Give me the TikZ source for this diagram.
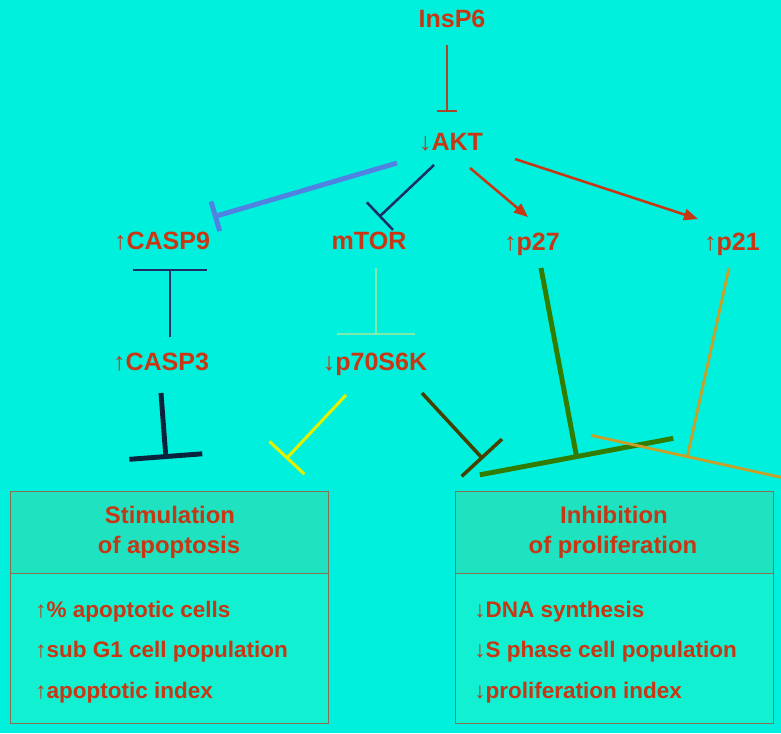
\documentclass[tikz,border=0pt]{standalone}
\usepackage{fontspec}
\setmainfont{Liberation Sans}
\usetikzlibrary{arrows.meta}

\definecolor{bgcyan}{RGB}{0,240,222}
\definecolor{txtred}{RGB}{200,55,20}
\definecolor{headfill}{RGB}{30,226,192}
\definecolor{bodyfill}{RGB}{18,240,210}
\definecolor{boxline}{RGB}{140,110,80}
\definecolor{insred}{RGB}{170,70,40}
\definecolor{caspblue}{RGB}{80,130,225}
\definecolor{navyline}{RGB}{30,45,105}
\definecolor{darknavy}{RGB}{10,35,60}
\definecolor{palegreen}{RGB}{130,235,170}
\definecolor{yellowline}{RGB}{225,240,0}
\definecolor{oliveline}{RGB}{70,65,0}
\definecolor{leafgreen}{RGB}{50,125,0}
\definecolor{ochreline}{RGB}{200,160,40}

\newcommand{\upar}{{\mdseries ↑}}
\newcommand{\downar}{{\mdseries ↓}}

\tikzset{
	lbl/.style={text=txtred, font=\fontsize{17.8}{20}\selectfont\bfseries, inner sep=0pt, anchor=base},
	headtxt/.style={text=txtred, font=\fontsize{17}{20}\selectfont\bfseries, inner sep=0pt, anchor=base},
	boxtxt/.style={text=txtred, font=\fontsize{16}{19}\selectfont\bfseries, inner sep=0pt, anchor=base west},
	blocks/.style={-{Bar[width=#1]}},
	activ/.style={txtred, line width=1.8pt, -{Triangle[length=10pt,width=8pt]}}
}

\begin{document}
\begin{tikzpicture}[x=0.025cm, y=-0.025cm]
	
	% Nền
	\clip (0,0) rectangle (781,733);
	\fill[bgcyan] (0,0) rectangle (781,733);
	
	% Hai khung kết quả
	\fill[headfill] (10,491) rectangle (328,573);
	\fill[bodyfill] (10,573) rectangle (328,723);
	\draw[boxline, line width=0.7pt] (10,491) rectangle (328,723);
	\draw[boxline, line width=0.7pt] (10,573) -- (328,573);
	\fill[headfill] (455,491) rectangle (773,573);
	\fill[bodyfill] (455,573) rectangle (773,723);
	\draw[boxline, line width=0.7pt] (455,491) rectangle (773,723);
	\draw[boxline, line width=0.7pt] (455,573) -- (773,573);
	
	% Các phân tử
	\node[lbl] (insp6) at (452,27) {InsP6};
	\node[lbl] (akt) at (451,150) {\downar AKT};
	\node[lbl] (casp9) at (162,249) {\upar CASP9};
	\node[lbl] (mtor) at (369,249) {mTOR};
	\node[lbl] (p27) at (532,250) {\upar p27};
	\node[lbl] (p21) at (732,250) {\upar p21};
	\node[lbl] (casp3) at (161,370) {\upar CASP3};
	\node[lbl] (p70) at (375,370) {\downar p70S6K};
	
	% Nội dung khung
	\node[headtxt] (apop) at (170,523) {Stimulation};
	\node[headtxt] (apop2) at (169,553) {of apoptosis};
	\node[boxtxt] (apopa) at (35,617) {\upar\% apoptotic cells};
	\node[boxtxt] (apopb) at (35,657) {\upar sub G1 cell population};
	\node[boxtxt] (apopc) at (35,698) {\upar apoptotic index};
	\node[headtxt] (prolif) at (614,523) {Inhibition};
	\node[headtxt] (prolif2) at (613,553) {of proliferation};
	\node[boxtxt] (prolifa) at (474,617) {\downar DNA synthesis};
	\node[boxtxt] (prolifb) at (474,657) {\downar S phase cell population};
	\node[boxtxt] (prolifc) at (474,698) {\downar proliferation index};
	
	% Đầu mút các đường nối
	\coordinate (insp6-s) at (447,45);
	\coordinate (akt-n) at (447,112);
	\coordinate (akt-w) at (397,163);
	\coordinate (casp9-ne) at (213,217);
	\coordinate (akt-sw) at (434,165);
	\coordinate (mtor-ne) at (379,217);
	\coordinate (akt-s) at (470,168);
	\coordinate (p27-n) at (528,217);
	\coordinate (akt-e) at (515,159);
	\coordinate (p21-n) at (698,219);
	\coordinate (casp9-s) at (170,269);
	\coordinate (casp3-n) at (170,337);
	\coordinate (mtor-s) at (376,268);
	\coordinate (p70-n) at (376,335);
	\coordinate (casp3-s) at (161,393);
	\coordinate (apop-n) at (166,459);
	\coordinate (p70-sw) at (346,395);
	\coordinate (apop-ne) at (286,459);
	\coordinate (p70-se) at (422,393);
	\coordinate (prolif-nw) at (483,459);
	\coordinate (p27-s) at (541,268);
	\coordinate (prolif-n) at (577,459);
	\coordinate (p21-s) at (729,268);
	\coordinate (prolif-ne) at (687,458);
	
	% Ức chế và hoạt hóa
	\draw[insred, line width=1.2pt, blocks=14pt] (insp6-s) -- (akt-n);
	\draw[caspblue, line width=3.5pt, blocks=22pt] (akt-w) -- (casp9-ne);
	\draw[navyline, line width=1.8pt, blocks=27pt] (akt-sw) -- (mtor-ne);
	\draw[activ] (akt-s) -- (p27-n);
	\draw[activ] (akt-e) -- (p21-n);
	\draw[navyline, line width=1.6pt, {Bar[width=53pt]}-] (casp9-s) -- (casp3-n);
	\draw[palegreen, line width=1.6pt, blocks=55pt] (mtor-s) -- (p70-n);
	\draw[darknavy, line width=3.5pt, blocks=52pt] (casp3-s) -- (apop-n);
	\draw[yellowline, line width=2.2pt, blocks=34pt] (p70-sw) -- (apop-ne);
	\draw[oliveline, line width=2.5pt, blocks=39pt] (p70-se) -- (prolif-nw);
	\draw[leafgreen, line width=3.5pt, blocks=140pt] (p27-s) -- (prolif-n);
	\draw[ochreline, line width=2pt, blocks=140pt] (p21-s) -- (prolif-ne);
	
\end{tikzpicture}
\end{document}
